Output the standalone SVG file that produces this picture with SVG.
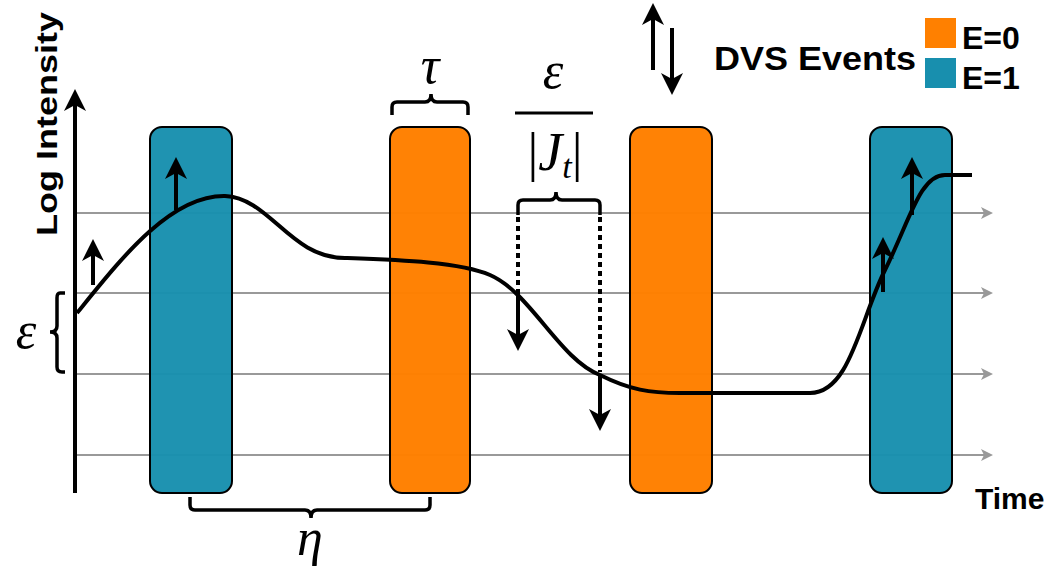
<svg xmlns="http://www.w3.org/2000/svg" width="1063" height="581" viewBox="0 0 1063 581">
<style>
.lbl{font-family:"Liberation Sans",Arial,sans-serif;font-weight:bold;fill:#000}
.math{font-family:"Liberation Serif","Times New Roman",serif;font-style:italic;fill:#000}
.grid{stroke:#999;stroke-width:2;fill:none}
.bar{stroke:#000;stroke-width:2}
.blk{stroke:#000;stroke-width:4;fill:none}
.br{stroke:#000;stroke-width:3.5;fill:none}
</style>
<defs>
<marker id="ga" markerWidth="12" markerHeight="12" refX="9" refY="6" orient="auto" markerUnits="userSpaceOnUse" viewBox="0 0 12 12"><path d="M0,0 L12,6 L0,12 L3,6z" fill="#999"/></marker>
<marker id="ba" markerWidth="22" markerHeight="22" refX="11" refY="11" orient="auto" markerUnits="userSpaceOnUse" viewBox="0 0 22 22"><path d="M0,0 L22,11 L0,22 L6,11z" fill="#000"/></marker>
</defs>
<g id="grid">
<path class="grid" d="M77,213H990" marker-end="url(#ga)"/>
<path class="grid" d="M77,293H990" marker-end="url(#ga)"/>
<path class="grid" d="M77,374H990" marker-end="url(#ga)"/>
<path class="grid" d="M77,455H990" marker-end="url(#ga)"/>
</g>
<g id="bar1"><rect class="bar" x="150" y="127" width="82" height="366" rx="12" fill="#188fae" fill-opacity="0.97"/></g>
<g id="bar2"><rect class="bar" x="390" y="127" width="80" height="366" rx="12" fill="#ff8000" fill-opacity="0.98"/></g>
<g id="bar3"><rect class="bar" x="630" y="127" width="82" height="366" rx="12" fill="#ff8000" fill-opacity="0.98"/></g>
<g id="bar4"><rect class="bar" x="870" y="127" width="82" height="366" rx="12" fill="#188fae" fill-opacity="0.97"/></g>
<g id="axis">
<path class="blk" d="M75,493V100" stroke-width="3" marker-end="url(#ba)"/>
<text class="lbl" font-size="30" transform="translate(57,236) rotate(-90)" textLength="224" lengthAdjust="spacingAndGlyphs">Log Intensity</text>
<text class="lbl" font-size="30" x="975" y="509">Time</text>
</g>
<g id="curve">
<path class="blk" d="M77,313 C120,260 170,195 225,196 C270,198 290,258 345,258 C400,260 460,262 490,275 C530,292 560,360 600,375 C630,390 650,393 680,393 L810,393 C850,393 860,320 885,270 C910,220 920,175 945,175 L972,175"/>
</g>
<g id="connectors">
<path class="blk" d="M93,285V250" marker-end="url(#ba)"/>
<path class="blk" d="M176,210V168" marker-end="url(#ba)"/>
<path class="blk" d="M518,290V340" marker-end="url(#ba)"/>
<path class="blk" d="M600,375V420" marker-end="url(#ba)"/>
<path class="blk" d="M883,292V248" marker-end="url(#ba)"/>
<path class="blk" d="M912,215V168" marker-end="url(#ba)"/>
<path d="M518,217V290M600,217V372" stroke="#000" stroke-width="4" stroke-dasharray="5,4" fill="none"/>
<path class="br" d="M518,215V205Q518,200 523,200H550Q556,200 556,192Q556,200 562,200H595Q600,200 600,205V215"/>
<path class="br" d="M392,115V107Q392,102 397,102H425Q431,102 431,94Q431,102 437,102H463Q468,102 468,107V115"/>
<path class="br" d="M190,497V505Q190,510 195,510H305Q311,510 311,518Q311,510 317,510H425Q430,510 430,505V497"/>
<path class="br" d="M65,293H60Q57,293 57,298V326Q57,332 50,332Q57,332 57,338V367Q57,372 62,372H65"/>
<path d="M515,113H593" stroke="#000" stroke-width="3"/>
</g>
<g id="labels">
<text class="math" font-size="52" x="430" y="83" text-anchor="middle">τ</text>
<text class="math" font-size="52" x="553" y="88" text-anchor="middle">ε</text>
<text class="math" font-size="54" x="555" y="170" text-anchor="middle"><tspan font-style="normal">|</tspan>J<tspan font-size="34" dy="8">t</tspan><tspan font-style="normal" dy="-8">|</tspan></text>
<text class="math" font-size="52" x="310" y="555" text-anchor="middle">η</text>
<text class="math" font-size="52" x="26" y="348" text-anchor="middle">ε</text>
</g>
<g id="legend">
<path class="blk" d="M653,70V14" marker-end="url(#ba)"/>
<path class="blk" d="M672,28V84" marker-end="url(#ba)"/>
<text class="lbl" font-size="33" x="714" y="70" textLength="202" lengthAdjust="spacingAndGlyphs">DVS Events</text>
<rect x="925" y="18" width="31" height="30" fill="#ff8000"/>
<rect x="925" y="58" width="31" height="30" fill="#188fae"/>
<text class="lbl" font-size="32" x="962" y="49">E=0</text>
<text class="lbl" font-size="32" x="962" y="89">E=1</text>
</g>
</svg>
